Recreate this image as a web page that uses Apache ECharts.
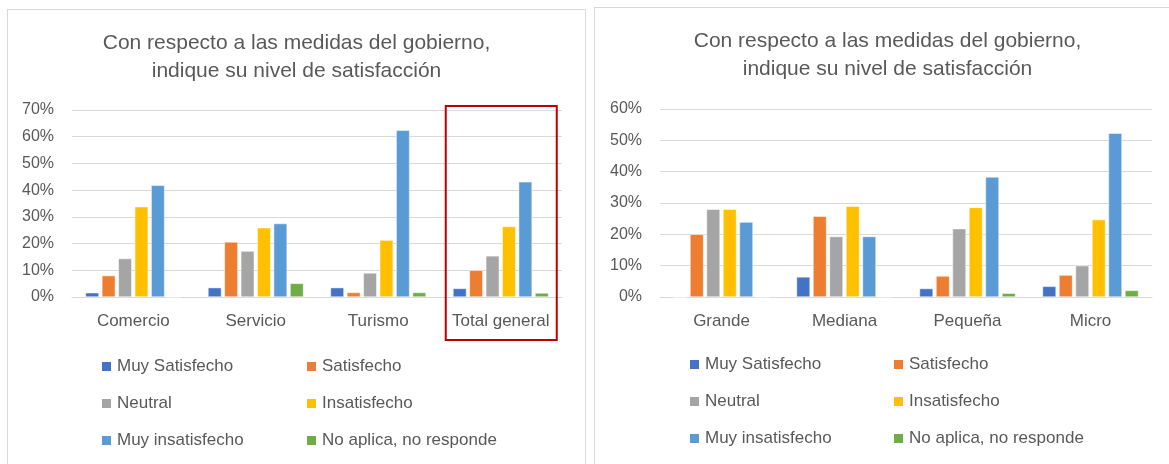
<!DOCTYPE html>
<html>
<head>
<meta charset="utf-8">
<script src="https://cdn.jsdelivr.net/npm/echarts@6/dist/echarts.min.js"></script>
<style>
  body { margin: 0; background: #fff; overflow: hidden; }
  .panel { position: absolute; border: 1px solid #d9d9d9; background: #fff; }
  #left { left: 7px; top: 9px; width: 577px; height: 470px; }
  #right { left: 594px; top: 7px; width: 585px; height: 470px; }
</style>
</head>
<body>
<div class="panel" id="left"></div>
<div class="panel" id="right"></div>
<script>
const titleLines = ['Con respecto a las medidas del gobierno,', 'indique su nivel de satisfacción'];
const seriesNames = ['Muy Satisfecho', 'Satisfecho', 'Neutral', 'Insatisfecho', 'Muy insatisfecho', 'No aplica, no responde'];
const colors = ['#4472C4', '#ED7D31', '#A5A5A5', '#FFC000', '#5B9BD5', '#70AD47'];

// sector chart (left)
const sectorCategories = ['Comercio', 'Servicio', 'Turismo', 'Total general'];
const sectorMuySatisfecho = [1.6, 3.5, 3.5, 3.2];
const sectorSatisfecho = [8.0, 20.6, 1.7, 10.0];
const sectorNeutral = [14.4, 17.2, 9.0, 15.4];
const sectorInsatisfecho = [33.8, 25.9, 21.3, 26.4];
const sectorMuyInsatisfecho = [41.8, 27.5, 62.4, 43.1];
const sectorNoAplica = [0, 5.1, 1.7, 1.5];
const sectorMax = 70;

// size chart (right)
const sizeCategories = ['Grande', 'Mediana', 'Pequeña', 'Micro'];
const sizeMuySatisfecho = [0, 6.4, 2.7, 3.4];
const sizeSatisfecho = [20.0, 25.8, 6.7, 7.0];
const sizeNeutral = [28.0, 19.3, 21.8, 10.0];
const sizeInsatisfecho = [28.0, 29.0, 28.6, 24.7];
const sizeMuyInsatisfecho = [23.9, 19.3, 38.3, 52.3];
const sizeNoAplica = [0, 0, 1.2, 2.1];
const sizeMax = 60;

const font = 'Liberation Sans';
const textColor = '#595959';

const legendStyle = (data, left) => ({
  data: data,
  orient: 'vertical',
  left: left,
  top: 348,
  padding: 0,
  itemWidth: 11,
  itemHeight: 11,
  itemGap: 20,
  icon: 'rect',
  textStyle: { fontFamily: font, fontSize: 17, color: textColor, lineHeight: 17, padding: [0, 0, 0, 0] }
});

const buildOption = (categories, values, max, grid, legendLeft) => {
  return {
    animation: false,
    color: colors,
    title: titleLines.map((t, i) => ({
      text: t,
      left: 'center',
      top: 23 + i * 28,
      padding: 0,
      textStyle: {
        fontFamily: font,
        fontSize: 21,
        fontWeight: 'normal',
        color: textColor
      }
    })),
    legend: [
      legendStyle([seriesNames[0], seriesNames[2], seriesNames[4]], legendLeft[0]),
      legendStyle([seriesNames[1], seriesNames[3], seriesNames[5]], legendLeft[1])
    ],
    grid: grid,
    xAxis: {
      type: 'category',
      data: categories,
      axisTick: { show: false },
      axisLine: { lineStyle: { color: '#d9d9d9', width: 1 } },
      axisLabel: { fontFamily: font, fontSize: 17, color: textColor, margin: 16, interval: 0 }
    },
    yAxis: {
      type: 'value',
      min: 0,
      max: max,
      interval: 10,
      axisLabel: {
        fontFamily: font,
        fontSize: 16,
        color: textColor,
        margin: 18,
        formatter: '{value}%'
      },
      splitLine: { lineStyle: { color: '#d9d9d9', width: 1 } }
    },
    series: values.map((data, i) => ({
      name: seriesNames[i],
      type: 'bar',
      data: data,
      barGap: '22%',
      barCategoryGap: '22%',
      itemStyle: { borderColor: '#fff', borderWidth: 0.5 }
    }))
  };
};

const leftChart = echarts.init(document.getElementById('left'));
leftChart.setOption(buildOption(
  sectorCategories,
  [sectorMuySatisfecho, sectorSatisfecho, sectorNeutral, sectorInsatisfecho, sectorMuyInsatisfecho, sectorNoAplica],
  sectorMax,
  { left: 64, top: 100, width: 490, height: 187 },
  [92, 297]
));

// red box around "Total general"
const cx = leftChart.convertToPixel({ xAxisIndex: 0 }, 'Total general');
leftChart.setOption({
  graphic: [{
    type: 'rect',
    shape: { x: cx - 55, y: 96, width: 111, height: 234 },
    style: { fill: 'none', stroke: '#C00000', lineWidth: 2 },
    z: 100
  }]
});

const rightChart = echarts.init(document.getElementById('right'));
rightChart.setOption(buildOption(
  sizeCategories,
  [sizeMuySatisfecho, sizeSatisfecho, sizeNeutral, sizeInsatisfecho, sizeMuyInsatisfecho, sizeNoAplica],
  sizeMax,
  { left: 65, top: 101, width: 492, height: 188 },
  [93, 297]
));
</script>
</body>
</html>
